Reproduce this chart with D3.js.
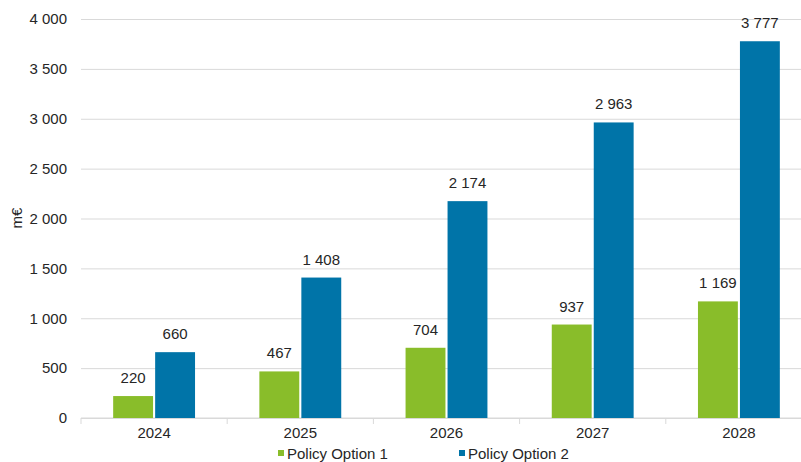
<!DOCTYPE html>
<html>
<head>
<meta charset="utf-8">
<script src="https://cdn.jsdelivr.net/npm/d3@7/dist/d3.min.js"></script>
<style>
  body { margin: 0; background: #fff; }
  #canvas { width: 801px; height: 462px; }
  text { font-family: "Liberation Sans", Arial, sans-serif; fill: #262626; }
</style>
</head>
<body>
<div id="canvas" class="canvas"></div>
<script>
// data
var years = ['2024', '2025', '2026', '2027', '2028'];
var seriesNames = ['Policy Option 1', 'Policy Option 2'];
var option1 = [220, 467, 704, 937, 1169];
var option2 = [660, 1408, 2174, 2963, 3777];
var yTicks = [0, 500, 1000, 1500, 2000, 2500, 3000, 3500, 4000];
var colors = ['#89bd2a', '#0074a8'];

var outerWidth = 801, outerHeight = 462;
var m = {t:19, r:-11, b:44, l:81};
var w = outerWidth - m.l - m.r,
    h = outerHeight - m.t - m.b;

var svg = d3.select('.canvas')
    .append('svg')
    .attr('width', outerWidth)
    .attr('height', outerHeight);

var plot = svg.append('g')
    .attr('transform', 'translate(' + m.l + ',' + m.t + ')');

var rows = years.map(function(y, i){
    return {year: y, values: [option1[i], option2[i]]};
});

var scaleX = d3.scaleBand()
    .domain(years)
    .range([0, w])
    .paddingInner(0.44)
    .paddingOuter(0.22);

var scaleS = d3.scaleBand()
    .domain([0, 1])
    .range([0, scaleX.bandwidth()])
    .paddingInner(0.05);

var scaleY = d3.scaleLinear()
    .domain([0, 4000])
    .range([h, 0]);

var fmt = function(v){ return d3.format(',')(v).replace(/,/g, ' '); };

// gridlines + y labels
var axisY = d3.axisLeft(scaleY)
    .tickValues(yTicks)
    .tickSize(-w)
    .tickPadding(14)
    .tickFormat(fmt);

var gy = plot.append('g')
    .attr('class', 'axis axis-y')
    .call(axisY);
gy.select('.domain').remove();
gy.selectAll('line').attr('stroke', '#d9d9d9').attr('stroke-width', 1);
gy.selectAll('text').style('font-size', '15px').attr('fill', '#262626');

// x axis
var step = scaleX.step();
var boundaries = d3.range(years.length + 1).map(function(i){ return i * step; });
var gx = plot.append('g')
    .attr('class', 'axis axis-x')
    .attr('transform', 'translate(0,' + h + ')');
gx.append('line')
    .attr('x1', 0).attr('x2', w)
    .attr('stroke', '#d9d9d9');
gx.selectAll('.tick-mark')
    .data(boundaries)
    .enter()
    .append('line')
    .attr('class', 'tick-mark')
    .attr('x1', function(d){ return d; })
    .attr('x2', function(d){ return d; })
    .attr('y1', 0).attr('y2', 6)
    .attr('stroke', '#d9d9d9');
gx.selectAll('.year')
    .data(years)
    .enter()
    .append('text')
    .attr('class', 'year')
    .attr('x', function(d){ return scaleX(d) + scaleX.bandwidth() / 2; })
    .attr('y', 20)
    .attr('text-anchor', 'middle')
    .style('font-size', '15px')
    .text(function(d){ return d; });

// bars
var groups = plot.selectAll('.year-group')
    .data(rows)
    .enter()
    .append('g')
    .attr('class', 'year-group')
    .attr('transform', function(d){ return 'translate(' + scaleX(d.year) + ',0)'; });

groups.selectAll('rect')
    .data(function(d){ return d.values; })
    .enter()
    .append('rect')
    .attr('x', function(d, i){ return scaleS(i); })
    .attr('width', scaleS.bandwidth())
    .attr('y', function(d){ return scaleY(d); })
    .attr('height', function(d){ return h - scaleY(d); })
    .attr('fill', function(d, i){ return colors[i]; });

groups.selectAll('.label')
    .data(function(d){ return d.values; })
    .enter()
    .append('text')
    .attr('class', 'label')
    .attr('x', function(d, i){ return scaleS(i) + scaleS.bandwidth() / 2; })
    .attr('y', function(d){ return scaleY(d) - 13; })
    .attr('text-anchor', 'middle')
    .style('font-size', '15px')
    .text(fmt);

// y title
svg.append('text')
    .attr('transform', 'translate(22,' + 218 + ') rotate(-90)')
    .attr('text-anchor', 'middle')
    .style('font-size', '15px')
    .text('m€');

// legend
var legendX = [278, 459];
var legend = svg.selectAll('.legend')
    .data(seriesNames)
    .enter()
    .append('g')
    .attr('class', 'legend')
    .attr('transform', function(d, i){ return 'translate(' + legendX[i] + ',459)'; });
legend.append('rect')
    .attr('x', 0).attr('y', -9)
    .attr('width', 6).attr('height', 6)
    .attr('fill', function(d, i){ return colors[i]; });
legend.append('text')
    .attr('x', 9)
    .attr('y', 0)
    .style('font-size', '15px')
    .text(function(d){ return d; });
</script>
</body>
</html>
